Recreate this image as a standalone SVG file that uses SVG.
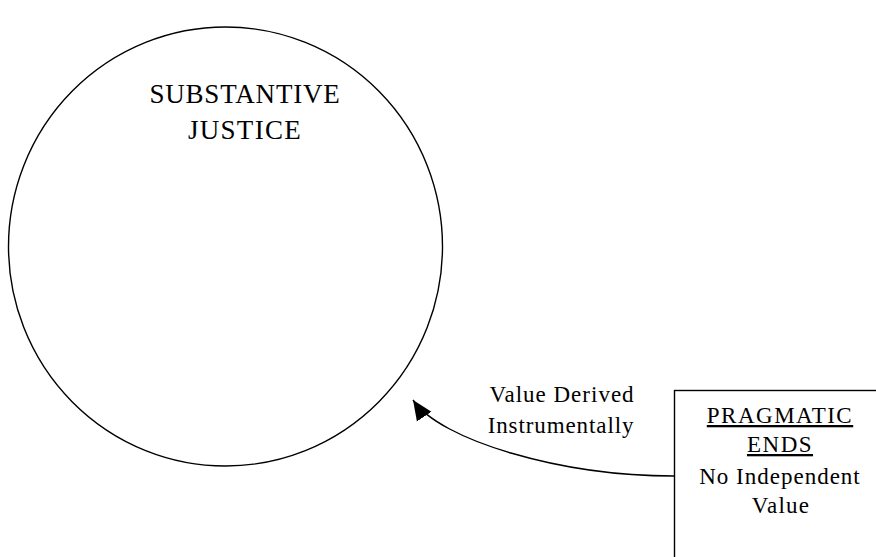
<svg xmlns="http://www.w3.org/2000/svg" width="876" height="557" viewBox="0 0 876 557">
<style>
.t{font-family:"Liberation Serif","Times New Roman",serif;fill:#000;text-anchor:middle}
.shape{fill:none;stroke:#000;stroke-width:1.4}
</style>
<defs>
<marker id="arr" markerUnits="userSpaceOnUse" markerWidth="20" markerHeight="20" viewBox="0 0 16 14" refX="16" refY="7" orient="auto">
<path d="M0,0 L16,7 L0,14 Z" fill="#000"/>
</marker>
</defs>
<rect width="876" height="557" fill="#fff"/>
<g id="substantive-justice">
<ellipse class="shape" cx="225.5" cy="246.5" rx="217" ry="219.5"/>
<text class="t" x="245" y="103" font-size="27" letter-spacing="0.8">SUBSTANTIVE</text>
<text class="t" x="245" y="139" font-size="27" letter-spacing="1.3">JUSTICE</text>
</g>
<g id="pragmatic-ends">
<rect class="shape" x="674.5" y="390.5" width="240" height="200"/>
<text class="t" x="780" y="423" font-size="23" letter-spacing="1.5" text-decoration="underline">PRAGMATIC</text>
<text class="t" x="780" y="452" font-size="23" letter-spacing="1.5" text-decoration="underline">ENDS</text>
<text class="t" x="780" y="484" font-size="23" letter-spacing="1">No Independent</text>
<text class="t" x="781" y="513" font-size="23" letter-spacing="1.2">Value</text>
</g>
<g id="connectors">
<path class="shape" d="M674,476 C560,476 440,440 413,400" marker-end="url(#arr)"/>
<text class="t" x="562" y="402" font-size="23" letter-spacing="1">Value Derived</text>
<text class="t" x="561" y="433" font-size="23" letter-spacing="0.9">Instrumentally</text>
</g>
</svg>
